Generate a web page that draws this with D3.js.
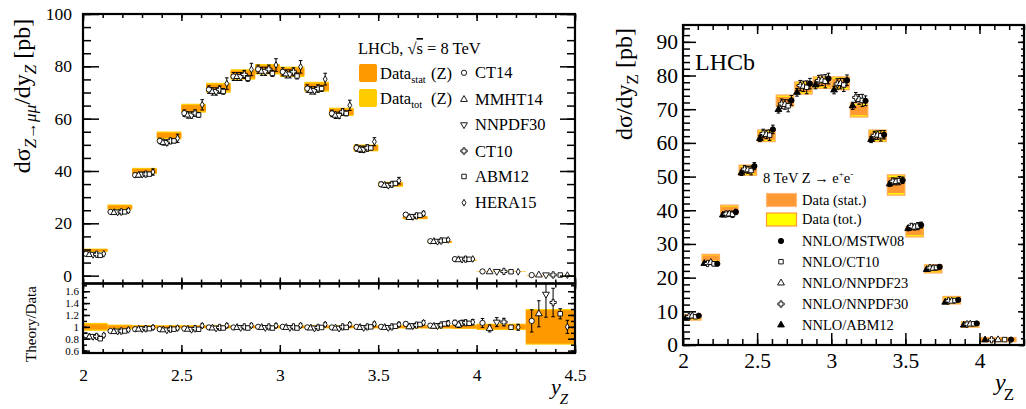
<!DOCTYPE html>
<html><head><meta charset="utf-8">
<script src="https://cdn.jsdelivr.net/npm/d3@7"></script>
<style>body{margin:0;background:#fff} svg{display:block} svg text, svg tspan{font-family:"Liberation Serif","Times New Roman","DejaVu Serif",serif !important;}</style>
</head><body><svg id="c" width="1026" height="409"></svg>
<script>
// ================= LEFT: Z -> mu mu =================
const binEdgesL = [2.0,2.125,2.25,2.375,2.5,2.625,2.75,2.875,3.0,3.125,3.25,3.375,3.5,3.625,3.75,3.875,4.0,4.25,4.5];
const dataL  = [9.7,26.2,40.0,53.6,64.0,71.8,76.9,78.9,77.9,72.2,62.6,48.8,34.9,22.2,12.9,5.9,1.5,0.2];
const statL  = [0.42,0.6,0.8,1.0,1.2,1.3,1.4,1.4,1.4,1.3,1.1,0.9,0.65,0.45,0.28,0.15,0.06,0.056];
const totL   = [0.65,1.0,1.2,1.5,1.7,1.9,2.0,2.0,2.0,1.9,1.6,1.3,0.95,0.62,0.38,0.2,0.08,0.06];
const ct14L    = [8.34,24.37,38.4,51.5,62.1,71.1,76.1,78.9,77.9,71.5,62.0,48.8,34.9,23.3,13.16,6.31,1.60,0.22];
const mmht14L  = [8.05,24.10,38.4,50.9,61.4,70.4,76.1,78.1,77.1,70.8,61.3,48.3,34.55,22.2,13.03,6.08,1.46,0.244];
const nnpdf30L = [8.15,24.37,38.8,50.9,61.4,70.4,76.1,78.1,77.1,70.8,61.3,48.3,34.55,22.65,13.16,6.31,1.62,0.31];
const ct10L    = [8.15,24.37,38.8,51.5,62.1,71.1,76.9,78.9,77.9,71.5,62.6,48.8,34.9,22.87,13.29,6.31,1.62,0.282];
const abm12L   = [7.76,24.37,38.8,51.5,61.4,70.4,75.4,77.3,76.3,71.5,62.0,48.8,35.25,23.1,13.55,6.25,1.49,0.244];
const hera15L  = [8.34,24.89,39.6,52.5,65.3,73.4,78.8,80.5,79.8,75.1,65.1,51.2,36.3,23.75,13.67,6.37,1.49,0.20];
// relative theory uncertainties (%)
const errCT14L    = [3,2.5,2,2,2,2,2,2,2,2,2,2.5,2.5,3,3,4,7,17];
const errMMHT14L  = [3,2.5,2,2,2,2,2,2,2,2,2,2.5,2.5,3,3,4,6,18];
const errNNPDF30L = [3,2.5,2,2,2,2,2,2,2,2,2,2.5,2.5,3,3.5,4,7,25];
const errCT10L    = [3,2.5,2,2,2,2,2,2,2,2,2,2.5,2.5,3,3,4,6,17];
const errABM12L   = [2,1.5,1.5,1.5,1.5,1.5,1.5,1.5,1.5,1.5,1.5,1.5,2,2,2,2.5,3,7];
const errHERA15L  = [3,3,3,3,3,3,3,3,3,3,3,3,3.5,3.5,4,4,5,11];
const namesL = ["CT14","MMHT14","NNPDF30","CT10","ABM12","HERA15"];
const xTicksL = [2,2.5,3,3.5,4,4.5];
const yTicksL = [0,20,40,60,80,100];
const ratioTicks = [0.6,0.8,1,1.2,1.4,1.6];

// ================= RIGHT: Z -> e e =================
const binEdgesR = [2.0,2.125,2.25,2.375,2.5,2.625,2.75,2.875,3.0,3.125,3.25,3.375,3.5,3.625,3.75,3.875,4.0,4.25];
const dataR = [8.2,25.9,40.3,51.9,62.1,72.5,76.3,77.9,77.7,69.7,62.1,47.5,33.6,22.6,13.3,6.1,1.6];
const statR = [0.5,0.7,0.8,1.0,1.2,1.2,1.3,1.2,1.3,1.5,1.2,2.4,1.0,0.8,0.7,0.5,0.4];
const totR  = [0.8,1.0,1.2,1.5,1.7,1.7,1.8,1.7,1.9,2.0,1.7,3.0,1.5,1.2,1.1,0.8,0.6];
const mstw08R  = [8.7,24.1,39.5,53.1,64.0,72.6,77.6,79.1,78.6,72.5,62.4,48.9,35.6,23.2,13.4,6.4,1.6];
const ct10R    = [8.4,24.1,38.8,51.8,62.3,71.0,76.5,78.3,77.2,72.6,62.1,48.8,35.3,23.0,13.2,6.3,1.6];
const nnpdf23R = [8.6,24.5,38.9,52.0,62.5,71.4,76.8,78.6,77.6,72.9,62.3,48.5,35.0,22.8,13.0,6.2,1.55];
const nnpdf30R = [8.4,24.2,38.9,52.2,62.8,71.6,77.0,78.5,77.5,73.5,62.2,48.6,35.2,22.9,13.1,6.2,1.55];
const abm12R   = [7.9,24.2,38.6,51.1,61.3,69.9,75.0,77.2,75.7,71.0,61.0,47.8,34.6,22.4,12.7,5.9,1.5];
const errMSTW08R  = [2.5,2,2,2,2,2,2,2,2,2,2,2,2.5,2.5,3,3,4];
const errCT10R    = [3,2.5,2.5,2.5,2.5,2.5,2.5,2.5,2.5,2.5,2.5,2.5,3,3,3.5,4,5];
const errNNPDF23R = [2.5,2,2,2,2,2,2,2,2,2,2,2,2.5,2.5,3,3,4];
const errNNPDF30R = [2.5,2,2,2,2,2,2,2,2,2,2,2,2.5,2.5,3,3,4];
const errABM12R   = [2,1.5,1.5,1.5,1.5,1.5,1.5,1.5,1.5,1.5,1.5,1.5,2,2,2,2.5,3];
const namesR = ["NNLO/MSTW08","NNLO/CT10","NNLO/NNPDF23","NNLO/NNPDF30","NNLO/ABM12"];
const xTicksR = [2,2.5,3,3.5,4];
const yTicksR = [0,10,20,30,40,50,60,70,80,90];

// ---------------------------------------------------
const FONT = "Liberation Serif";
const svg = d3.select("#c");
const xL = d3.scaleLinear().domain([2,4.5]).range([83,575]);
const yL = d3.scaleLinear().domain([-3,100]).range([283.5,14]);
const yRat = d3.scaleLinear().domain([0.56,1.73]).range([353,283.5]);
const xR = d3.scaleLinear().domain([2,4.3]).range([683,1024]);
const yR = d3.scaleLinear().domain([0,95]).range([345,25]);

const defs = svg.append("defs");
function clip(id,x0,y0,x1,y1){defs.append("clipPath").attr("id",id).append("rect").attr("x",x0).attr("y",y0).attr("width",x1-x0).attr("height",y1-y0);}
clip("cU",83,14,575,283.5); clip("cRat",83,283.5,575,353); clip("cR",683,25,1024,345);

const symbols = {
  circle: d3.symbol().type(d3.symbolCircle).size(22)(),
  triUp: d3.symbol().type(d3.symbolTriangle).size(20)(),
  triDown: d3.symbol().type(d3.symbolTriangle).size(20)(),
  cross: d3.symbol().type(d3.symbolCross).size(22)(),
  square: d3.symbol().type(d3.symbolSquare).size(20)(),
  diamond: d3.symbol().type(d3.symbolDiamond).size(13)()
};
function marker(g,type,x,y,filled){
  g.append("path").attr("d",symbols[type])
   .attr("transform",`translate(${x},${y})`+(type==="triDown"?" rotate(180)":""))
   .attr("fill",filled?"#000":"#fff").attr("stroke","#000").attr("stroke-width",0.9);
}
function errbar(g,x,y0,y1){
  g.append("line").attr("x1",x).attr("x2",x).attr("y1",y0).attr("y2",y1).attr("stroke","#000").attr("stroke-width",1);
  [y0,y1].forEach(y=>g.append("line").attr("x1",x-1.8).attr("x2",x+1.8).attr("y1",y).attr("y2",y).attr("stroke","#000").attr("stroke-width",1));
}
function axis(ax,transform,vals,size,fmt,pad,fs){
  const a = ax.tickValues(vals).tickSizeInner(size).tickSizeOuter(0).tickPadding(pad||3).tickFormat(fmt||"");
  const g = svg.append("g").attr("transform",transform).attr("font-family",FONT).call(a);
  g.attr("font-family",FONT).attr("font-size",fs||10);
  g.select(".domain").remove();
  g.selectAll("line").attr("stroke","#000").attr("stroke-width",1.5);
  g.selectAll("text").attr("fill","#000");
  return g;
}
const minorsOf = (a,b,s)=>d3.range(a,b+s/2,s).map(v=>+v.toFixed(4));

// ---------- LEFT upper panel ----------
const gU = svg.append("g").attr("clip-path","url(#cU)");
dataL.forEach((d,i)=>{
  const x0=xL(binEdgesL[i]), x1=xL(binEdgesL[i+1]);
  gU.append("rect").attr("x",x0).attr("width",x1-x0).attr("y",yL(d+totL[i])).attr("height",yL(d-totL[i])-yL(d+totL[i])).attr("fill","#FFCC00");
  gU.append("rect").attr("x",x0).attr("width",x1-x0).attr("y",yL(d+statL[i])).attr("height",yL(d-statL[i])-yL(d+statL[i])).attr("fill","#FF9900");
});
const theoryL = [ct14L,mmht14L,nnpdf30L,ct10L,abm12L,hera15L];
const errL = [errCT14L,errMMHT14L,errNNPDF30L,errCT10L,errABM12L,errHERA15L];
const shapesL = ["circle","triUp","triDown","cross","square","diamond"];
theoryL.forEach((arr,k)=>{
  arr.forEach((v,i)=>{
    const x0=xL(binEdgesL[i]), x1=xL(binEdgesL[i+1]);
    const x = x0+(x1-x0)*(0.12+k*0.145);
    const e = v*errL[k][i]/100;
    errbar(gU,x,yL(v+e),yL(v-e));
    marker(gU,shapesL[k],x,yL(v),false);
  });
});
// ---------- LEFT ratio panel ----------
const gRat = svg.append("g").attr("clip-path","url(#cRat)");
dataL.forEach((d,i)=>{
  const x0=xL(binEdgesL[i]), x1=xL(binEdgesL[i+1]);
  const t=totL[i]/d, s=statL[i]/d;
  gRat.append("rect").attr("x",x0).attr("width",x1-x0).attr("y",yRat(1+t)).attr("height",yRat(1-t)-yRat(1+t)).attr("fill","#FFCC00");
  gRat.append("rect").attr("x",x0).attr("width",x1-x0).attr("y",yRat(1+s)).attr("height",yRat(1-s)-yRat(1+s)).attr("fill","#FF9900");
});
theoryL.forEach((arr,k)=>{
  arr.forEach((v,i)=>{
    const x0=xL(binEdgesL[i]), x1=xL(binEdgesL[i+1]);
    const x = x0+(x1-x0)*(0.12+k*0.145);
    const r = v/dataL[i], e = v*errL[k][i]/100/dataL[i];
    errbar(gRat,x,yRat(r+e),yRat(r-e));
    marker(gRat,shapesL[k],x,yRat(r),false);
  });
});
// frames
svg.append("rect").attr("x",83).attr("y",14).attr("width",492).attr("height",269.5).attr("fill","none").attr("stroke","#000").attr("stroke-width",2.2);
svg.append("rect").attr("x",83).attr("y",283.5).attr("width",492).attr("height",69.5).attr("fill","none").attr("stroke","#000").attr("stroke-width",2.2);
// axes upper
axis(d3.axisLeft(yL),"translate(83,0)",minorsOf(0,100,5),-8);
axis(d3.axisLeft(yL),"translate(83,0)",yTicksL,-16,d3.format("d"),11,17.5);
axis(d3.axisRight(yL),"translate(575,0)",minorsOf(0,100,5),-8);
axis(d3.axisRight(yL),"translate(575,0)",yTicksL,-15);
axis(d3.axisTop(xL),"translate(0,14)",minorsOf(2,4.5,0.1),-4);
axis(d3.axisTop(xL),"translate(0,14)",xTicksL,-7);
axis(d3.axisBottom(xL),"translate(0,283.5)",minorsOf(2,4.5,0.1),-4);
axis(d3.axisBottom(xL),"translate(0,283.5)",xTicksL,-6);
// axes ratio
axis(d3.axisTop(xL),"translate(0,283.5)",minorsOf(2,4.5,0.1),-4);
axis(d3.axisTop(xL),"translate(0,283.5)",xTicksL,-6);
axis(d3.axisBottom(xL),"translate(0,353)",minorsOf(2,4.5,0.1),-4);
axis(d3.axisBottom(xL),"translate(0,353)",xTicksL,-8,d3.format("~g"),16,17.5);
axis(d3.axisLeft(yRat),"translate(83,0)",minorsOf(0.6,1.7,0.1),-4);
axis(d3.axisLeft(yRat),"translate(83,0)",ratioTicks,-7,d3.format("~g"),4,11);
axis(d3.axisRight(yRat),"translate(575,0)",minorsOf(0.6,1.7,0.1),-4);
axis(d3.axisRight(yRat),"translate(575,0)",ratioTicks,-7);

// titles left
function txt(x,y,fs,opts){
  const t = svg.append("text").attr("x",x).attr("y",y).attr("font-family",FONT).attr("font-size",fs).attr("fill","#000");
  if(opts&&opts.anchor) t.attr("text-anchor",opts.anchor);
  if(opts&&opts.transform) t.attr("transform",opts.transform).attr("x",0).attr("y",0);
  return t;
}
function parts(t,list){
  list.forEach(([s,o])=>{
    const sp=t.append("tspan").text(s);
    if(o){ if(o.fs) sp.attr("font-size",o.fs); if(o.dy) sp.attr("dy",o.dy); if(o.it) sp.attr("font-style","italic"); if(o.x!==undefined) sp.attr("x",o.x); if(o.dx) sp.attr("dx",o.dx); if(o.deco) sp.style("text-decoration",o.deco);}
  });
}
parts(txt(0,0,24,{anchor:"middle",transform:"translate(30,96) rotate(-90)"}),
  [["dσ"],["Z→μμ",{fs:17,dy:6,it:true}],["/dy",{dy:-6}],["Z",{fs:17,dy:6,it:true}],[" [pb]",{dy:-6}]]);
txt(0,0,15,{anchor:"middle",transform:"translate(36,324) rotate(-90)"}).text("Theory/Data");
parts(txt(551,394,22),[["y",{it:true}],["Z",{fs:15,dy:10,it:true,dx:-1}]]);

// legend left
parts(txt(358,54,16.5),[["LHCb, √"],["s",{deco:"overline"}],[" = 8 TeV"]]);
svg.append("rect").attr("x",359).attr("y",64).attr("width",18).attr("height",18).attr("rx",2).attr("fill","#FF9900");
svg.append("rect").attr("x",359).attr("y",89).attr("width",18).attr("height",18).attr("rx",2).attr("fill","#FFCC00");
parts(txt(380,78.5,16.5),[["Data"],["stat",{fs:10.5,dy:4}],["(Z)",{dy:-4,x:431}]]);
parts(txt(380,104,16.5),[["Data"],["tot",{fs:10.5,dy:4}],["(Z)",{dy:-4,x:431}]]);
const legYL=[78.3,105,130.2,156.5,182,208.2];
namesL.forEach((n,k)=>{
  marker(svg,shapesL[k],464,legYL[k]-5.5,false);
  txt(475,legYL[k],16.5).text(n);
});

// ---------- RIGHT panel ----------
const gR = svg.append("g").attr("clip-path","url(#cR)");
dataR.forEach((d,i)=>{
  const x0=xR(binEdgesR[i]), x1=xR(binEdgesR[i+1]);
  gR.append("rect").attr("x",x0+0.6).attr("width",x1-x0-1.2).attr("y",yR(d+totR[i])).attr("height",yR(d-totR[i])-yR(d+totR[i])).attr("fill","#FFFF00").attr("stroke","#FFAA55").attr("stroke-width",1.3);
  gR.append("rect").attr("x",x0+1.2).attr("width",x1-x0-2.4).attr("y",yR(d+statR[i])).attr("height",yR(d-statR[i])-yR(d+statR[i])).attr("fill","#FF9933");
});
const theoryR = [abm12R,nnpdf30R,nnpdf23R,ct10R,mstw08R];
const errR = [errABM12R,errNNPDF30R,errNNPDF23R,errCT10R,errMSTW08R];
const shapesR = [["triUp",true],["cross",false],["triUp",false],["square",false],["circle",true]];
theoryR.forEach((arr,k)=>{
  arr.forEach((v,i)=>{
    const x0=xR(binEdgesR[i]), x1=xR(binEdgesR[i+1]);
    const x = x0+(x1-x0)*(0.15+k*0.175);
    const e = v*errR[k][i]/100;
    errbar(gR,x,yR(v+e),yR(v-e));
    marker(gR,shapesR[k][0],x,yR(v),shapesR[k][1]);
  });
});
svg.append("rect").attr("x",683).attr("y",25).attr("width",341).attr("height",320).attr("fill","none").attr("stroke","#000").attr("stroke-width",2.2);
axis(d3.axisLeft(yR),"translate(683,0)",minorsOf(0,94,2),-7);
axis(d3.axisLeft(yR),"translate(683,0)",yTicksR,-13,d3.format("d"),5,21.5);
axis(d3.axisRight(yR),"translate(1024,0)",minorsOf(0,94,2),-3);
axis(d3.axisRight(yR),"translate(1024,0)",yTicksR,-6);
axis(d3.axisTop(xR),"translate(0,25)",minorsOf(2,4.3,0.1),-5);
axis(d3.axisTop(xR),"translate(0,25)",xTicksR,-9);
axis(d3.axisBottom(xR),"translate(0,345)",minorsOf(2,4.3,0.1),-6);
axis(d3.axisBottom(xR),"translate(0,345)",xTicksR,-12,d3.format("~g"),8,21.5);

parts(txt(0,0,24,{anchor:"middle",transform:"translate(632,84) rotate(-90)"}),
  [["dσ/dy"],["Z",{fs:17,dy:6}],[" [pb]",{dy:-6}]]);
parts(txt(995,390,24),[["y",{it:true}],["Z",{fs:17,dy:10,dx:-2}]]);
txt(695,70,24).text("LHCb");

// right legend
parts(txt(763,183,14.5),[["8 TeV Z → e"],["+",{fs:9,dy:-6}],["e",{dy:6}],["-",{fs:9,dy:-6}]]);
svg.append("rect").attr("x",766.5).attr("y",193.5).attr("width",30).attr("height",13).attr("fill","#FF9933").attr("stroke","#FFB877").attr("stroke-width",1.2);
svg.append("rect").attr("x",766.5).attr("y",213).attr("width",30).attr("height",13).attr("fill","#FFFF00").attr("stroke","#FF9933").attr("stroke-width",1.2);
txt(802,204.5,14.5).text("Data (stat.)");
txt(802,224,14.5).text("Data (tot.)");
const legShapesR = [["circle",true],["square",false],["triUp",false],["cross",false],["triUp",true]];
const legYR = [246,266.7,288,309,330];
namesR.forEach((n,k)=>{
  marker(svg,legShapesR[k][0],781,legYR[k]-5,legShapesR[k][1]);
  txt(802,legYR[k],14.5).text(n);
});
</script></body></html>
